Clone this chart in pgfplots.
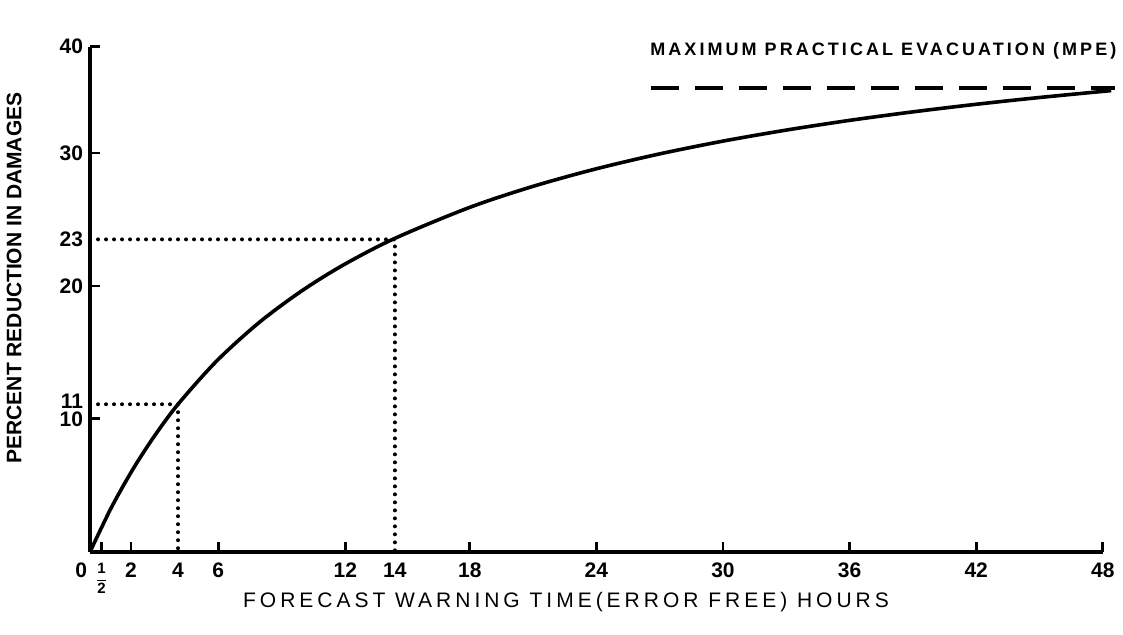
\documentclass[border=0pt]{standalone}
\usepackage{fontspec}
\setmainfont{Liberation Sans}
\usepackage{pgfplots}
\pgfplotsset{compat=1.18}
\usetikzlibrary{calc}

\begin{document}
\begin{tikzpicture}
\begin{axis}[
    name=ax,
    scale only axis,
    width=506.5pt, height=252.7pt,
    xmin=0, xmax=48, ymin=0, ymax=38,
    clip=false,
    axis x line=bottom, axis y line=left,
    axis line style={-, line width=1.8pt},
    tick align=inside,
    major tick length=5pt,
    tick style={line width=1.4pt, black},
    xtick={0.55,1.94,6.07,12.1,18,24,30,36,42,48},
    xticklabels={{\fontsize{7.5}{8}\selectfont$\displaystyle\frac{\textbf{1}}{\textbf{2}}$},2,6,12,18,24,30,36,42,48},
    extra x ticks={0,4.17,14.45},
    extra x tick labels={\makebox[0pt][r]{0\hspace{1.5pt}},4,14},
    extra x tick style={major tick length=0pt},
    ytick={10,20,30,38},
    yticklabels={\raisebox{-3pt}{10},20,30,40},
    extra y ticks={11,23.5},
    extra y tick labels={\raisebox{4.5pt}{11},23},
    extra y tick style={major tick length=0pt},
    tick label style={font=\bfseries\fontsize{10.5}{12}\selectfont},
    xticklabel style={yshift=-2pt},
    xlabel={FORECAST WARNING TIME(ERROR FREE) HOURS},
    xlabel style={at={(axis description cs:0.47,-0.1)}, anchor=center,
        font=\fontsize{10.5}{12}\selectfont\addfontfeature{LetterSpace=19}},
    ylabel={PERCENT REDUCTION IN DAMAGES},
    ylabel style={at={(axis description cs:-0.075,0.542)}, anchor=center,
        font=\bfseries\fontsize{10.5}{12}\selectfont},
]
% damage reduction curve
\addplot[black, line width=1.8pt, smooth] coordinates {
    (0,0) (1,3.30) (2,6.13) (3,8.59) (4.17,11.10) (6,14.35) (8,17.23) (10,19.59)
    (12,21.57) (14.45,23.58) (18,25.91) (21,27.49) (24,28.81) (27,29.93) (30,30.89)
    (33,31.72) (36,32.45) (39,33.09) (42,33.66) (45,34.17) (48.4,34.69)
};
% maximum practical evacuation
\addplot[black, line width=2.2pt, dash pattern=on 14pt off 8pt] coordinates {
    (26.6,34.9) (48.6,34.9)
};
% read-off lines
\addplot[black, line width=2pt, line cap=round, dash pattern=on 0pt off 4pt] coordinates {
    (0,11.1) (4.17,11.1) (4.17,0)
};
\addplot[black, line width=2pt, line cap=round, dash pattern=on 0pt off 4pt] coordinates {
    (0,23.5) (14.45,23.5) (14.45,0)
};
\node[font=\bfseries\fontsize{9}{10}\selectfont\addfontfeature{LetterSpace=17}]
    at (axis cs:37.6,37.7) {MAXIMUM PRACTICAL EVACUATION (MPE)};
\end{axis}
\path ($(ax.south west)+(-45pt,-41.5pt)$) rectangle ($(ax.north east)+(10pt,23.3pt)$);
\end{tikzpicture}
\end{document}
